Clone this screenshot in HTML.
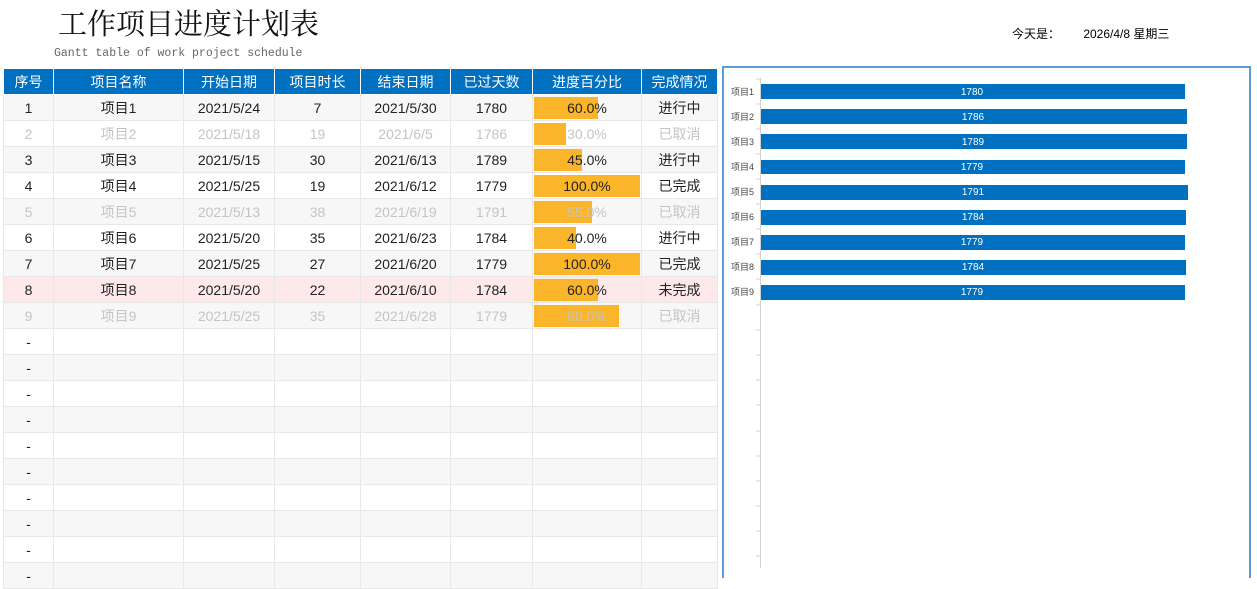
<!DOCTYPE html>
<html><head><meta charset="utf-8">
<style>
body{margin:0;width:1257px;height:568px;overflow:hidden;background:#fff;font-family:"Liberation Sans","Noto Sans CJK SC",sans-serif;position:relative}
.title{position:absolute;left:58px;top:2px;font-size:29px;font-family:"Liberation Serif","Noto Serif CJK SC",serif;color:#111}
.sub{position:absolute;left:54px;top:47px;font-size:11.5px;font-family:"Liberation Mono",monospace;color:#666}
.today{position:absolute;left:1012px;top:25px;font-size:12px;color:#000}
table{position:absolute;left:3px;top:69px;border-collapse:collapse;table-layout:fixed;width:714px}
td,th{height:25px;border:1px solid #e8e8e8;text-align:center;font-size:14px;padding:0;position:relative;color:#222;font-weight:normal}
th{background:#0070c0;color:#fff;border-color:#fff;border-top:none}
tr:nth-child(odd) td{background:#f7f7f7}
tr.w td{background:#fff}
tr.g td{background:#f7f7f7}
tr.p td{background:#fde9ea}
tr.c td{color:#c4c4c4}
.bar{position:absolute;left:1px;top:2px;height:22px;background:#fbb52b}
.pt{position:relative}
.chart{position:absolute;left:722px;top:66px;width:525px;height:510px;border:2px solid #5b9bd5;border-bottom:none}
</style></head><body>
<div class="title">工作项目进度计划表</div>
<div class="sub">Gantt table of work project schedule</div>
<div class="today">今天是：&nbsp;&nbsp;&nbsp;&nbsp;&nbsp;&nbsp;&nbsp;2026/4/8 星期三</div>
<table>
<colgroup><col style="width:50px"><col style="width:130px"><col style="width:91px"><col style="width:86px"><col style="width:90px"><col style="width:82px"><col style="width:109px"><col style="width:76px"></colgroup>
<tr><th>序号</th><th>项目名称</th><th>开始日期</th><th>项目时长</th><th>结束日期</th><th>已过天数</th><th>进度百分比</th><th>完成情况</th></tr>
<tr class="g"><td>1</td><td>项目1</td><td>2021/5/24</td><td>7</td><td>2021/5/30</td><td>1780</td><td><div class="bar" style="width:64px"></div><span class="pt">60.0%</span></td><td>进行中</td></tr>
<tr class="w c"><td>2</td><td>项目2</td><td>2021/5/18</td><td>19</td><td>2021/6/5</td><td>1786</td><td><div class="bar" style="width:32px"></div><span class="pt">30.0%</span></td><td>已取消</td></tr>
<tr class="g"><td>3</td><td>项目3</td><td>2021/5/15</td><td>30</td><td>2021/6/13</td><td>1789</td><td><div class="bar" style="width:48px"></div><span class="pt">45.0%</span></td><td>进行中</td></tr>
<tr class="w"><td>4</td><td>项目4</td><td>2021/5/25</td><td>19</td><td>2021/6/12</td><td>1779</td><td><div class="bar" style="width:106px"></div><span class="pt">100.0%</span></td><td>已完成</td></tr>
<tr class="g c"><td>5</td><td>项目5</td><td>2021/5/13</td><td>38</td><td>2021/6/19</td><td>1791</td><td><div class="bar" style="width:58px"></div><span class="pt">55.0%</span></td><td>已取消</td></tr>
<tr class="w"><td>6</td><td>项目6</td><td>2021/5/20</td><td>35</td><td>2021/6/23</td><td>1784</td><td><div class="bar" style="width:42px"></div><span class="pt">40.0%</span></td><td>进行中</td></tr>
<tr class="g"><td>7</td><td>项目7</td><td>2021/5/25</td><td>27</td><td>2021/6/20</td><td>1779</td><td><div class="bar" style="width:106px"></div><span class="pt">100.0%</span></td><td>已完成</td></tr>
<tr class="p"><td>8</td><td>项目8</td><td>2021/5/20</td><td>22</td><td>2021/6/10</td><td>1784</td><td><div class="bar" style="width:64px"></div><span class="pt">60.0%</span></td><td>未完成</td></tr>
<tr class="g c"><td>9</td><td>项目9</td><td>2021/5/25</td><td>35</td><td>2021/6/28</td><td>1779</td><td><div class="bar" style="width:85px"></div><span class="pt">80.0%</span></td><td>已取消</td></tr>
<tr class="w"><td>-</td><td></td><td></td><td></td><td></td><td></td><td></td><td></td></tr>
<tr class="g"><td>-</td><td></td><td></td><td></td><td></td><td></td><td></td><td></td></tr>
<tr class="w"><td>-</td><td></td><td></td><td></td><td></td><td></td><td></td><td></td></tr>
<tr class="g"><td>-</td><td></td><td></td><td></td><td></td><td></td><td></td><td></td></tr>
<tr class="w"><td>-</td><td></td><td></td><td></td><td></td><td></td><td></td><td></td></tr>
<tr class="g"><td>-</td><td></td><td></td><td></td><td></td><td></td><td></td><td></td></tr>
<tr class="w"><td>-</td><td></td><td></td><td></td><td></td><td></td><td></td><td></td></tr>
<tr class="g"><td>-</td><td></td><td></td><td></td><td></td><td></td><td></td><td></td></tr>
<tr class="w"><td>-</td><td></td><td></td><td></td><td></td><td></td><td></td><td></td></tr>
<tr class="g"><td>-</td><td></td><td></td><td></td><td></td><td></td><td></td><td></td></tr>
</table>
<div class="chart"></div>
<svg style="position:absolute;left:0;top:0" width="1257" height="568" font-family="Liberation Sans, Noto Sans CJK SC, sans-serif">
<line x1="760.5" y1="78" x2="760.5" y2="568" stroke="#d0d0d0" stroke-width="1"/>
<g stroke="#d0d0d0">
<line x1="756" y1="79" x2="760" y2="79"/><line x1="756" y1="104" x2="760" y2="104"/><line x1="756" y1="129" x2="760" y2="129"/><line x1="756" y1="154" x2="760" y2="154"/><line x1="756" y1="179" x2="760" y2="179"/><line x1="756" y1="204" x2="760" y2="204"/><line x1="756" y1="229" x2="760" y2="229"/><line x1="756" y1="254" x2="760" y2="254"/><line x1="756" y1="279" x2="760" y2="279"/><line x1="756" y1="305" x2="760" y2="305"/><line x1="756" y1="330" x2="760" y2="330"/><line x1="756" y1="355" x2="760" y2="355"/><line x1="756" y1="380" x2="760" y2="380"/><line x1="756" y1="405" x2="760" y2="405"/><line x1="756" y1="431" x2="760" y2="431"/><line x1="756" y1="456" x2="760" y2="456"/><line x1="756" y1="481" x2="760" y2="481"/><line x1="756" y1="506" x2="760" y2="506"/><line x1="756" y1="531" x2="760" y2="531"/><line x1="756" y1="556" x2="760" y2="556"/>
</g>
<g fill="#0070c0">
<rect x="761" y="84" width="424" height="15"/>
<rect x="761" y="109" width="426" height="15"/>
<rect x="761" y="134" width="426" height="15"/>
<rect x="761" y="160" width="424" height="14"/>
<rect x="761" y="185" width="427" height="15"/>
<rect x="761" y="210" width="425" height="15"/>
<rect x="761" y="235" width="424" height="15"/>
<rect x="761" y="260" width="425" height="15"/>
<rect x="761" y="285" width="424" height="15"/>
</g>
<g fill="#fff" font-size="10" text-anchor="middle">
<text x="972" y="95">1780</text><text x="973" y="120">1786</text><text x="973" y="145">1789</text><text x="972" y="170">1779</text><text x="973" y="195">1791</text><text x="973" y="220">1784</text><text x="972" y="245">1779</text><text x="973" y="270">1784</text><text x="972" y="295">1779</text>
</g>
<g fill="#444" font-size="9" text-anchor="end">
<text x="754" y="95">项目1</text><text x="754" y="120">项目2</text><text x="754" y="145">项目3</text><text x="754" y="170">项目4</text><text x="754" y="195">项目5</text><text x="754" y="220">项目6</text><text x="754" y="245">项目7</text><text x="754" y="270">项目8</text><text x="754" y="295">项目9</text>
</g>
</svg>
</body></html>
